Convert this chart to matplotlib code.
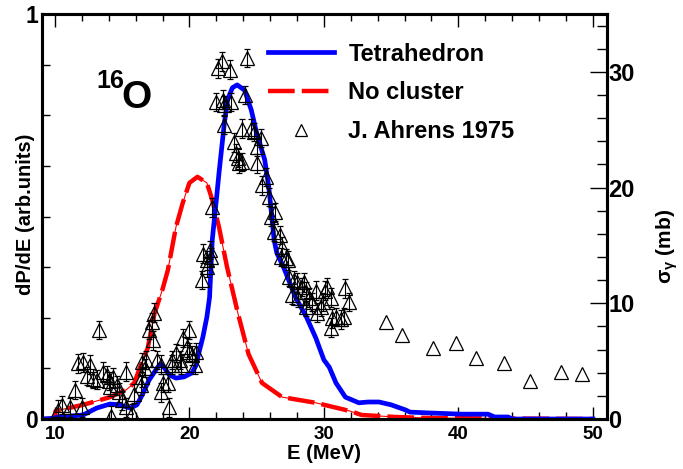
import numpy as np
import matplotlib
matplotlib.use("Agg")
import matplotlib.pyplot as plt
from matplotlib.ticker import MultipleLocator
from matplotlib.lines import Line2D

plt.rcParams['font.family'] = ['Liberation Sans', 'DejaVu Sans']
plt.rcParams['font.weight'] = 'bold'
plt.rcParams['mathtext.fontset'] = 'custom'
plt.rcParams['mathtext.rm'] = 'Liberation Sans'
plt.rcParams['mathtext.it'] = 'Liberation Sans'
plt.rcParams['mathtext.bf'] = 'Liberation Sans:bold'

# Tetrahedron calculation (dP/dE, arb. units)
tetra_e = [9.0, 10.0, 10.15, 11.1, 12.1, 13.1, 14.1, 14.8, 15.6, 16.1, 16.5, 17.0, 17.6,
           17.85, 18.15, 18.5, 19.0, 19.6, 20.2, 20.5, 20.7, 21.0, 21.3, 21.5, 21.7, 22.0,
           22.2, 22.6, 22.85, 23.2, 23.55, 24.1, 24.6, 25.0, 25.6, 25.9, 26.1, 26.3, 26.5,
           27.0, 27.9, 28.7, 29.4, 30.0, 30.4, 30.9, 31.6, 32.6, 33.3, 34.1, 35.0, 36.1,
           36.4, 37.8, 40.2, 42.2, 42.7, 43.7, 44.0, 50.0]
tetra_p = [0.0, 0.002, 0.005, 0.007, 0.010, 0.027, 0.037, 0.035, 0.027, 0.035, 0.060, 0.096,
           0.126, 0.136, 0.126, 0.109, 0.101, 0.104, 0.114, 0.133, 0.163, 0.202, 0.252, 0.301,
           0.442, 0.540, 0.607, 0.731, 0.790, 0.818, 0.825, 0.812, 0.763, 0.706, 0.640, 0.573,
           0.509, 0.442, 0.410, 0.375, 0.300, 0.252, 0.200, 0.146, 0.128, 0.089, 0.054, 0.040,
           0.042, 0.042, 0.035, 0.022, 0.017, 0.015, 0.012, 0.012, 0.005, 0.005, 0.0, 0.0]

# No cluster calculation (dP/dE, arb. units)
nocl_e = [9.0, 10.0, 10.05, 12.1, 14.1, 15.3, 15.9, 16.3, 16.9, 17.4, 18.0, 18.4, 19.0,
          19.5, 20.0, 20.6, 21.3, 21.7, 22.2, 22.8, 23.6, 24.4, 25.4, 26.9, 29.4, 31.9,
          32.8, 35.3, 37.8, 50.0]
nocl_p = [0.0, 0.0, 0.020, 0.035, 0.054, 0.072, 0.089, 0.125, 0.175, 0.260, 0.320, 0.368,
          0.474, 0.533, 0.583, 0.598, 0.583, 0.541, 0.474, 0.375, 0.262, 0.160, 0.089, 0.054,
          0.040, 0.020, 0.010, 0.005, 0.0025, 0.0]

# J. Ahrens 1975 photoabsorption data (mb)
ahrens_e = [10.2, 10.5, 11.1, 11.5, 11.7, 12.0, 12.1, 12.4, 12.6, 12.8, 13.1, 13.3, 13.6,
            13.9, 14.0, 14.1, 14.2, 14.3, 14.6, 14.8, 15.0, 15.3, 15.3, 15.7, 15.9, 16.4,
            16.5, 16.5, 16.7, 16.8, 17.0, 17.2, 17.3, 17.4, 17.6, 17.9, 18.0, 17.9, 18.4,
            18.5, 18.7, 18.7, 19.0, 19.3, 19.4, 19.5, 19.8, 20.0, 20.0, 20.2, 20.4, 20.5,
            20.9, 21.0, 21.3, 21.3, 21.5, 21.6, 21.7, 22.0, 22.1, 22.4, 22.5, 22.6, 22.6,
            23.0, 23.1, 23.3, 23.5, 23.6, 23.7, 23.9, 23.9, 24.1, 24.3, 24.6, 24.8, 25.0,
            25.0, 25.3, 25.4, 25.7, 25.9, 26.1, 26.3, 26.4, 26.7, 26.8, 26.9, 27.2, 27.3,
            27.4, 27.6, 27.8, 28.0, 28.1, 28.4, 28.5, 28.7, 28.7, 28.9, 29.1, 29.4, 29.5,
            29.8, 29.9, 30.1, 30.2, 30.5, 30.5, 30.6, 30.9, 31.3, 31.5, 31.6, 31.9]
ahrens_s = [0.8, 1.2, 1.0, 2.5, 4.8, 1.0, 4.9, 3.7, 4.7, 3.5, 3.4, 7.7, 4.1,
            3.8, 3.3, 2.8, 0.3, 3.6, 2.9, 2.3, 1.6, 4.1, 1.0, 0.5, 2.2, 2.9,
            3.6, 4.9, 4.4, 5.1, 7.7, 8.4, 6.8, 9.2, 5.1, 4.7, 3.1, 2.3, 3.1,
            1.0, 5.1, 4.7, 5.7, 5.1, 4.7, 7.0, 6.2, 7.7, 5.8, 5.5, 4.7, 5.8,
            12.0, 14.3, 13.7, 13.1, 14.6, 14.0, 18.3, 27.4, 30.3, 30.9, 27.6, 27.1, 25.4,
            30.2, 27.4, 23.9, 23.0, 22.6, 22.1, 25.1, 22.2, 28.0, 31.2, 25.1, 24.8, 23.5,
            22.1, 24.3, 20.2, 20.9, 19.2, 17.5, 16.2, 17.9, 15.9, 14.0, 14.9, 13.9, 13.7,
            12.3, 10.7, 12.0, 11.8, 10.5, 11.4, 11.8, 11.0, 9.7, 10.5, 10.1, 11.1, 9.2,
            9.7, 10.1, 11.1, 11.4, 10.5, 7.9, 8.7, 8.8, 8.6, 8.8, 11.3, 10.1]
ahrens_err = [0.8] * len(ahrens_e)

# high-energy points without error bars
ahrens_hi_e = [34.6, 35.8, 38.1, 39.8, 41.3, 43.4, 45.3, 47.6, 49.2]
ahrens_hi_s = [8.4, 7.3, 6.1, 6.6, 5.3, 4.8, 3.3, 4.1, 3.9]

left_ticks = [0, 0.125, 0.25, 0.375, 0.5, 0.625, 0.75, 0.875, 1.0]
left_tick_labels = ['0', '', '', '', '', '', '', '', '1']
x_ticks = [10, 20, 30, 40, 50]
right_ticks = [0, 10, 20, 30]

fig = plt.figure(figsize=(6.83, 4.69), dpi=100)
ax = fig.add_axes([0.0615, 0.1066, 0.8272, 0.8635])
ax2 = ax.twinx()

ax.plot(nocl_e, nocl_p, color='red', lw=0.8, zorder=2)
ax.plot(nocl_e, nocl_p, color='red', lw=3.2, dashes=(6, 1.6), zorder=2)
ax.plot(tetra_e, tetra_p, color='blue', lw=3.4, zorder=3)

ax2.errorbar(ahrens_e, ahrens_s, yerr=ahrens_err, fmt='^', ms=9.5, mfc='none', mec='black',
             mew=0.9, ecolor='black', elinewidth=0.8, capsize=2.2, capthick=0.8, zorder=4)
ax2.plot(ahrens_hi_e, ahrens_hi_s, '^', ms=9.5, mfc='none', mec='black', mew=0.9, zorder=4)

ax.set_xlim(9.04, 51.05)
ax.set_ylim(0, 1)
ax2.set_ylim(0, 35)

ax.set_xticks(x_ticks)
ax.xaxis.set_minor_locator(MultipleLocator(2))
ax.set_yticks(left_ticks)
ax.set_yticklabels(left_tick_labels)
ax2.set_yticks(right_ticks)
ax2.yaxis.set_minor_locator(MultipleLocator(2))

ax.tick_params(axis='x', which='major', direction='in', length=9, width=1.0, top=True,
               labelsize=13.5, pad=5)
ax.tick_params(axis='x', which='minor', direction='in', length=5, width=1.0, top=True)
ax.tick_params(axis='y', which='major', direction='in', length=6, width=1.0,
               labelsize=16.5, pad=3)
ax2.tick_params(axis='y', which='major', direction='in', length=12, width=1.0,
                labelsize=17, pad=1)
ax2.tick_params(axis='y', which='minor', direction='in', length=7, width=1.0)

for a in (ax, ax2):
    for s in a.spines.values():
        s.set_linewidth(2.2)

ax.set_xlabel('E (MeV)', fontsize=14.5, fontweight='bold', labelpad=1)
ax.set_ylabel('dP/dE (arb.units)', fontsize=14.5, fontweight='bold')
ax.yaxis.set_label_coords(-0.013, 0.506)
ax2.set_ylabel(r'$\sigma_{\gamma}$ (mb)', fontsize=15, fontweight='bold')
ax2.yaxis.set_label_coords(1.084, 0.425)

ax.text(0.097, 0.817, '16', transform=ax.transAxes, fontsize=18, fontweight='bold',
        ha='left', va='baseline')
ax.text(0.140, 0.768, 'O', transform=ax.transAxes, fontsize=28, fontweight='bold',
        ha='left', va='baseline')

handles = [
    Line2D([], [], color='blue', lw=3.4),
    Line2D([], [], color='red', lw=3.2, dashes=(6, 1.6)),
    Line2D([], [], ls='none', marker='^', ms=8, mfc='none', mec='black', mew=0.9),
]
labels = ['Tetrahedron', 'No cluster', 'J. Ahrens 1975']
leg = ax.legend(handles, labels, loc='upper left', bbox_to_anchor=(0.371, 0.970),
                frameon=False, fontsize=17, handlelength=2.8, handletextpad=0.6,
                labelspacing=0.66, borderpad=0.2)
for t in leg.get_texts():
    t.set_fontweight('bold')

fig.savefig('out.png', dpi=100)
